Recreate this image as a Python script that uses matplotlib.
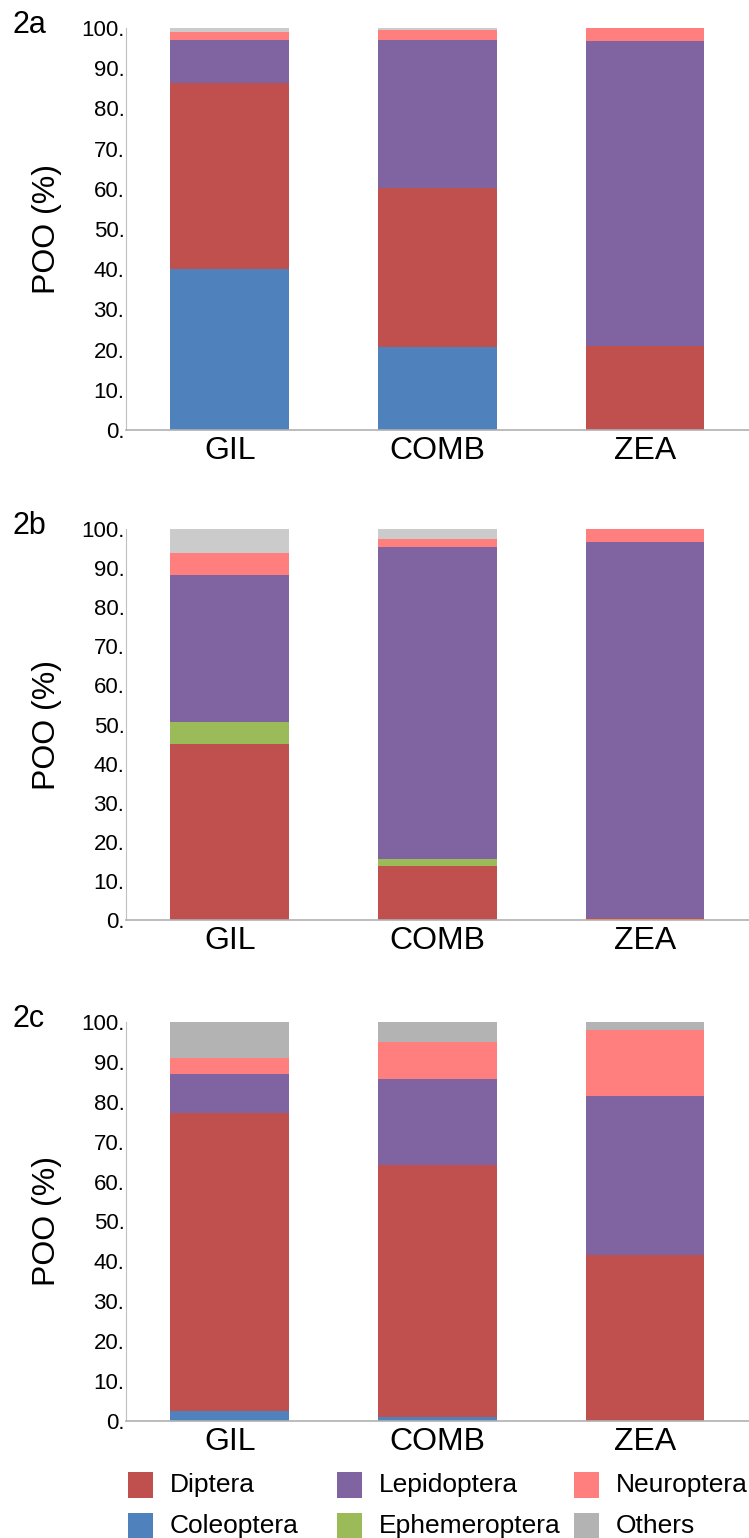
import numpy as np
import matplotlib.pyplot as plt
from matplotlib.patches import Rectangle

# Données (POO %)
sites = ['GIL', 'COMB', 'ZEA']
orders = ['Coleoptera', 'Diptera', 'Ephemeroptera', 'Lepidoptera', 'Neuroptera', 'Others']

coleo_a = [40.0, 20.6, 0.0]
dipt_a = [46.4, 39.6, 21.0]
ephem_a = [0.0, 0.0, 0.0]
lepi_a = [10.7, 36.7, 75.8]
neuro_a = [1.9, 2.5, 3.2]
other_a = [1.0, 0.6, 0.0]

coleo_b = [0.0, 0.0, 0.0]
dipt_b = [45.0, 13.9, 0.6]
ephem_b = [5.7, 1.6, 0.0]
lepi_b = [37.6, 79.9, 96.2]
neuro_b = [5.7, 2.0, 3.2]
other_b = [6.0, 2.6, 0.0]

coleo_c = [2.4, 1.1, 0.0]
dipt_c = [74.9, 63.0, 41.5]
ephem_c = [0.0, 0.0, 0.0]
lepi_c = [9.7, 21.6, 39.9]
neuro_c = [4.0, 9.3, 16.7]
other_c = [9.0, 5.0, 1.9]

yticks = [0, 10, 20, 30, 40, 50, 60, 70, 80, 90, 100]

couleurs = {'Coleoptera': '#4f81bd', 'Diptera': '#c0504d', 'Ephemeroptera': '#9bbb59',
            'Lepidoptera': '#8064a2', 'Neuroptera': '#fe7f7e', 'Others': '#b3b3b3'}

panneaux = [
  ('2a', [coleo_a, dipt_a, ephem_a, lepi_a, neuro_a, other_a], [0.7204, 0.2614], '#cbcbcb'),
  ('2b', [coleo_b, dipt_b, ephem_b, lepi_b, neuro_b, other_b], [0.4018, 0.2542], '#cbcbcb'),
  ('2c', [coleo_c, dipt_c, ephem_c, lepi_c, neuro_c, other_c], [0.0761, 0.2594], '#b3b3b3'),
]

plt.rcParams['font.family'] = ['Liberation Sans', 'DejaVu Sans']

W, H = 749, 1538
fig = plt.figure(figsize=(W/100, H/100), dpi=100)
x = np.arange(len(sites))

for nom, series, (bas, haut), gris in panneaux:
  ax = fig.add_axes([0.168, bas, 0.832, haut])
  cumul = np.zeros(len(sites))
  for ordre, vals in zip(orders, series):
    c = gris if ordre == 'Others' else couleurs[ordre]
    ax.bar(x, vals, width=0.57, bottom=cumul, color=c, edgecolor='none')
    cumul = cumul + np.array(vals)
  ax.set_xlim(-0.5, 2.5)
  ax.set_ylim(0, 100)
  ax.set_yticks(yticks)
  ax.set_yticklabels([f'{v}.' for v in yticks], fontsize=16)
  ax.set_xticks(x)
  ax.set_xticklabels(sites, fontsize=23)
  ax.tick_params(axis='y', length=0, pad=1)
  ax.tick_params(axis='x', length=0, pad=4)
  for s in ['top', 'right']:
    ax.spines[s].set_visible(False)
  ax.spines['left'].set_color('#c0c0c0')
  ax.spines['bottom'].set_color('#b0b0b0')
  ax.spines['bottom'].set_linewidth(1.2)
  ax.set_ylabel('POO (%)', fontsize=23, labelpad=14)
  fig.text(13/W, bas + haut + 3/H, nom, fontsize=22, ha='left', va='center')

# légende dessinée à la main (2 lignes x 3 colonnes)
leg_noms = [['Diptera', 'Lepidoptera', 'Neuroptera'],
            ['Coleoptera', 'Ephemeroptera', 'Others']]
col_x = [128, 337, 574]
row_y = [1485, 1526]
for i, ligne in enumerate(leg_noms):
  for j, nom in enumerate(ligne):
    fig.patches.append(Rectangle(((col_x[j]) / W, 1 - (row_y[i] + 13) / H), 25 / W, 26 / H,
                                 transform=fig.transFigure, facecolor=couleurs[nom],
                                 edgecolor='none'))
    fig.text((col_x[j] + 42) / W, 1 - row_y[i] / H, nom, fontsize=19, ha='left', va='center')

plt.savefig('out.png', dpi=100)
